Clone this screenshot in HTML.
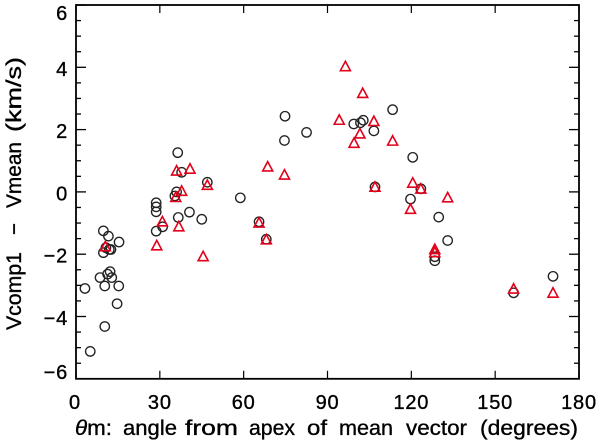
<!DOCTYPE html>
<html>
<head>
<meta charset="utf-8">
<style>
html,body{margin:0;padding:0;background:#fff}
svg{display:block}
text{font-family:"Liberation Sans",sans-serif;fill:#000;stroke:#000;stroke-width:.35}
</style>
</head>
<body>
<svg id="chart" width="600" height="444" viewBox="0 0 600 444" xmlns="http://www.w3.org/2000/svg">
<g id="marks-circles"></g>
<g id="marks-triangles"></g>
<g id="axes"></g>
<g font-size="21">
<text x="75" y="435" textLength="37" lengthAdjust="spacingAndGlyphs"><tspan font-style="italic">θ</tspan>m:</text>
<text x="123" y="435" textLength="54" lengthAdjust="spacingAndGlyphs">angle</text>
<text x="185" y="435" textLength="53" lengthAdjust="spacingAndGlyphs">from</text>
<text x="249" y="435" textLength="46" lengthAdjust="spacingAndGlyphs">apex</text>
<text x="307" y="435" textLength="20" lengthAdjust="spacingAndGlyphs">of</text>
<text x="339" y="435" textLength="54" lengthAdjust="spacingAndGlyphs">mean</text>
<text x="406" y="435" textLength="61" lengthAdjust="spacingAndGlyphs">vector</text>
<text x="480" y="435" textLength="98" lengthAdjust="spacingAndGlyphs">(degrees)</text>
</g>
<g font-size="21" transform="translate(21,330) rotate(-90)">
<text x="0" y="0" textLength="78" lengthAdjust="spacingAndGlyphs">Vcomp1</text>
<text x="95" y="0" textLength="12" lengthAdjust="spacingAndGlyphs">−</text>
<text x="122" y="0" textLength="66" lengthAdjust="spacingAndGlyphs">Vmean</text>
<text x="198" y="0" textLength="75" lengthAdjust="spacingAndGlyphs">(km/s)</text>
</g>
</svg>
<script>
const circleTheta = [3.2,5.1,9.8,11.6,15.4,9.8,10.7,12.5,11.9,8.6,12.2,11.3,12.8,10.3,15.3,14.7,10.3,28.7,28.7,28.7,28.7,31,36.6,40.6,45,36.4,37.8,36,35.4,47,58.8,65.5,68.1,74.8,74.6,82.5,99.4,101.8,102.8,106.6,113.3,107,120.5,123.4,119.7,129.8,133,128.4,128.4,156.6,170.7];
const circleV = [-3.10,-5.12,-1.25,-1.42,-1.61,-1.95,-1.79,-1.85,-1.85,-2.75,-2.56,-2.64,-2.75,-3.02,-3.02,-3.59,-4.32,-0.35,-0.48,-0.64,-1.26,-1.12,-0.82,-0.65,-0.88,1.26,0.63,0.0,-0.13,0.31,-0.19,-0.96,-1.52,2.43,1.65,1.91,2.18,2.22,2.30,1.96,2.64,0.16,1.11,0.10,-0.23,-0.81,-1.56,-2.08,-2.21,-3.24,-2.71];
const triangleTheta = [96.4,102.6,94.2,106.6,101.6,99.5,113.3,68.6,74.6,47,107,65.5,68.1,45.5,36,40.8,37.8,35.7,30.9,36.8,28.9,10.5,120.5,123.4,133,119.7,128.4,128.4,156.6,170.7];
const triangleV = [4.02,3.16,2.30,2.26,1.86,1.56,1.63,0.80,0.54,0.21,0.15,-1.0,-1.54,-2.08,0.67,0.73,0.02,-0.18,-0.96,-1.12,-1.73,-1.76,0.28,0.09,-0.19,-0.56,-1.85,-1.95,-3.12,-3.25];
const xTickLabels = [0,30,60,90,120,150,180];
const yTickLabels = [-6,-4,-2,0,2,4,6];
const yMinorTicks = [-5.5,-5,-4.5,-3.5,-3,-2.5,-1.5,-1,-0.5,0.5,1,1.5,2.5,3,3.5,4.5,5,5.5];

const NS = 'http://www.w3.org/2000/svg';
const L = 76, R = 579, T = 5, B = 378.8;
const xScale = v => L + (v - 0) * (R - L) / 180;
const yScale = v => B - (v + 6) * (B - T) / 12;

function mk(parent, tag, attrs) {
  const el = document.createElementNS(NS, tag);
  for (const k in attrs) el.setAttribute(k, attrs[k]);
  parent.appendChild(el);
  return el;
}

const circleGroup = document.getElementById('marks-circles');
circleTheta.forEach((t, i) => {
  const c = mk(circleGroup, 'circle', {cx: xScale(t), cy: yScale(circleV[i]), r: 4.7, fill: 'none', stroke: '#222', 'stroke-width': 1.35});
  
  
});

const triangleGroup = document.getElementById('marks-triangles');
triangleTheta.forEach((t, i) => {
  const x = xScale(t), y = yScale(triangleV[i]);
  const p = mk(triangleGroup, 'polygon', {points: `${x},${y - 5.4} ${x + 5},${y + 4} ${x - 5},${y + 4}`, fill: 'none', stroke: '#e2001a', 'stroke-width': 1.6});
  
  
});

const axes = document.getElementById('axes');
const frame = mk(axes, 'rect', {x: L, y: T, width: R - L, height: B - T, fill: 'none', stroke: '#000', 'stroke-width': 1.8});



xTickLabels.forEach(v => {
  const x = xScale(v);
  const b = mk(axes, 'line', {x1: x, x2: x, y1: B, y2: B - 8, stroke: '#000', 'stroke-width': 1.2});
  
  
  const t = mk(axes, 'line', {x1: x, x2: x, y1: T, y2: T + 8, stroke: '#000', 'stroke-width': 1.2});
  
  
  const lab = mk(axes, 'text', {x: v === 0 ? x - 1 : x, y: 409, 'font-size': 20, 'text-anchor': 'middle', 'letter-spacing': 0.8});
  lab.textContent = String(v);
  
  
});

yTickLabels.forEach(v => {
  const y = yScale(v);
  const a = mk(axes, 'line', {x1: L, x2: L + 10, y1: y, y2: y, stroke: '#000', 'stroke-width': 1.3});
  
  
  const b = mk(axes, 'line', {x1: R, x2: R - 10, y1: y, y2: y, stroke: '#000', 'stroke-width': 1.3});
  
  
  const lab = mk(axes, 'text', {x: 68, y: Math.min(Math.max(y + 8.5, 20), 379), 'font-size': 20, 'text-anchor': 'end', 'letter-spacing': 0.8});
  lab.textContent = v < 0 ? '−' + (-v) : String(v);
  
  
});

yMinorTicks.forEach(v => {
  const y = yScale(v);
  const a = mk(axes, 'line', {x1: L, x2: L + 5, y1: y, y2: y, stroke: '#000', 'stroke-width': 1.3});
  
  
  const b = mk(axes, 'line', {x1: R, x2: R - 5, y1: y, y2: y, stroke: '#000', 'stroke-width': 1.3});
  
  
});
</script>
</body>
</html>
